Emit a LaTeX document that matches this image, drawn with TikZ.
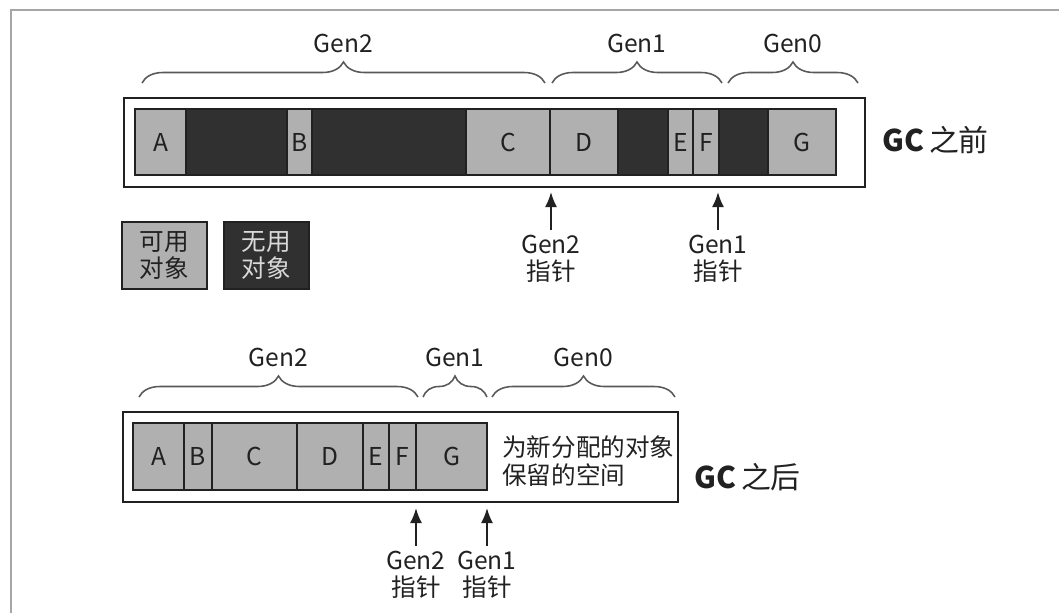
\documentclass[tikz,border=0pt]{standalone}
\usepackage{fontspec}
\setmainfont{Noto Sans CJK SC}
\usetikzlibrary{positioning,arrows.meta,decorations.pathreplacing}
\definecolor{liveobj}{gray}{0.69}
\definecolor{deadobj}{gray}{0.19}
\definecolor{ink}{gray}{0.13}
\tikzset{
  heap/.style={draw=ink,line width=1.1pt},
  cell/.style={draw=ink,line width=1pt},
  gen/.style={decorate,decoration={brace,amplitude=0.42cm},line width=0.9pt,draw=ink!75},
  ptr/.style={-{Latex[length=3mm,width=2.4mm]},line width=1.1pt,draw=ink},
  ptrlabel/.style={align=center,inner sep=3pt},
  legendbox/.style={draw=ink,line width=1.1pt,minimum width=1.7cm,minimum height=1.34cm,align=center},
}

\begin{document}
\begin{tikzpicture}[x=0.02cm,y=-0.02cm,font=\fontsize{14}{15.5}\selectfont,text=ink]
  \useasboundingbox (0,0) rectangle (1059,613);
  \draw[gray!70,line width=1pt] (1059,10)--(11,10)--(11,613);

  % ===== before GC =====
  \draw[heap] (124,98) rectangle (865,187);
  \foreach \l/\r/\t/\f in {135/186/A/liveobj,186/287//deadobj,287/312/B/liveobj,
                           312/466//deadobj,466/550/C/liveobj,550/618/D/liveobj,
                           618/668//deadobj,668/693/E/liveobj,693/719/F/liveobj,
                           719/768//deadobj,768/836/G/liveobj}
    \draw[cell,fill=\f] (\l,109) rectangle (\r,175) node[midway]{\t};
  \draw[gen] (142,83)--(545,83) node[midway,above=0.48cm]{Gen2};
  \draw[gen] (552,83)--(722,83) node[midway,above=0.48cm]{Gen1};
  \draw[gen] (728,83)--(858,83) node[midway,above=0.48cm]{Gen0};
  \node[anchor=west,font=\fontsize{17}{19}\selectfont] (before) at (876,140){\textbf{GC}\,之前};

  \node[ptrlabel] (g2ptr) at (551,259){Gen2\\指针};
  \coordinate (g2tip) at (551,192);
  \draw[ptr] (g2ptr)--(g2tip);
  \node[ptrlabel] (g1ptr) at (718,259){Gen1\\指针};
  \coordinate (g1tip) at (718,192);
  \draw[ptr] (g1ptr)--(g1tip);

  % legend
  \node[legendbox,fill=liveobj] (live) at (164.5,255.5){可用\\对象};
  \node[legendbox,fill=deadobj,text=white!85!black,right=0.3cm of live] (dead){无用\\对象};

  % ===== after GC =====
  \draw[heap] (123,412) rectangle (678,502);
  \foreach \l/\r/\t in {133/184/A,184/212/B,212/297/C,297/363/D,363/389/E,389/416/F,416/487/G}
    \draw[cell,fill=liveobj] (\l,423) rectangle (\r,490) node[midway]{\t};
  \draw[gen] (139,397)--(418,397) node[midway,above=0.48cm]{Gen2};
  \draw[gen] (423,397)--(487,397) node[midway,above=0.48cm]{Gen1};
  \draw[gen] (492,397)--(675,397) node[midway,above=0.48cm]{Gen0};
  \node[anchor=west,align=left] (free) at (496,461){为新分配的对象\\保留的空间};
  \node[anchor=west,font=\fontsize{17}{19}\selectfont] (after) at (688,477){\textbf{GC}\,之后};

  \node[ptrlabel] (g2new) at (416,575){Gen2\\指针};
  \coordinate (g2newtip) at (416,508);
  \draw[ptr] (g2new)--(g2newtip);
  \node[ptrlabel] (g1new) at (487,575){Gen1\\指针};
  \coordinate (g1newtip) at (487,508);
  \draw[ptr] (g1new)--(g1newtip);
\end{tikzpicture}
\end{document}
